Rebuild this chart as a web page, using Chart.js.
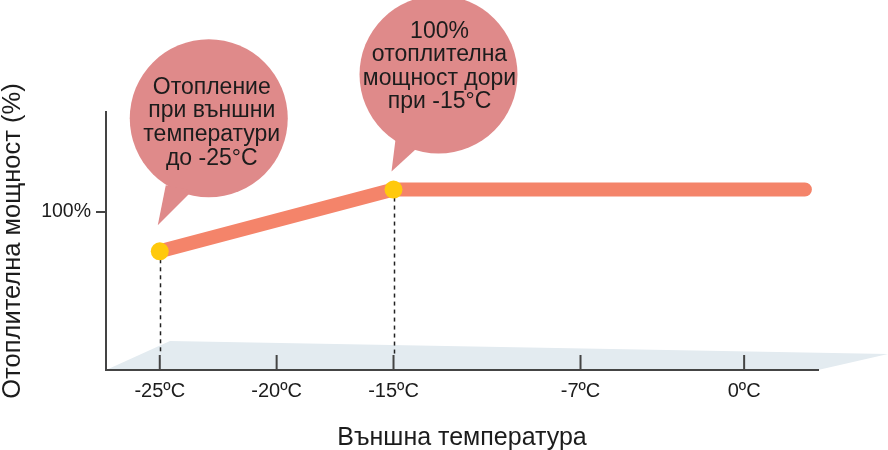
<!DOCTYPE html>
<html>
<head>
<meta charset="utf-8">
<script src="https://cdn.jsdelivr.net/npm/chart.js@4"></script>
<style>
  html, body { margin: 0; padding: 0; background: #fff; }
  #wrap { width: 888px; height: 450px; }
</style>
</head>
<body>
<div id="wrap"><canvas id="chart" width="888" height="450"></canvas></div>
<script>
// outdoor temperature (°C) -> heating capacity (%)
var temps = [-25, -15, 2.6];
var capacity = [75, 114, 114];
var markerTemps = [-25, -15];
var markerCapacity = [75, 114];
var tickTemps = [-25, -20, -15, -7, 0];
var yTicks = [100];

var bubbleTexts = [
  ["Отопление", "при външни", "температури", "до -25°C"],
  ["100%", "отоплителна", "мощност дори", "при -15°C"]
];

var FONT = "'Liberation Sans', Arial, sans-serif";
var colors = {
  line: "#f4846a",
  dot: "#ffc90c",
  bubble: "#df8a8a",
  floor: "#e3ebf0",
  axis: "#444",
  text: "#1c1c1c"
};

var linePoints = temps.map(function (t, i) { return { x: t, y: capacity[i] }; });
var markerPoints = markerTemps.map(function (t, i) { return { x: t, y: markerCapacity[i] }; });

var decor = {
  id: "decor",
  beforeDraw: function (chart) {
    var a = chart.chartArea, ctx = chart.ctx;
    ctx.save();
    ctx.fillStyle = colors.floor;
    ctx.beginPath();
    ctx.moveTo(a.left, a.bottom);
    ctx.lineTo(a.left + 64, a.bottom - 29);
    ctx.lineTo(888, a.bottom - 16);
    ctx.lineTo(a.right, a.bottom);
    ctx.closePath();
    ctx.fill();
    ctx.restore();
  },
  beforeDatasetsDraw: function (chart) {
    var ctx = chart.ctx, xs = chart.scales.x, ys = chart.scales.y, a = chart.chartArea;
    ctx.save();
    // inner tick marks
    ctx.strokeStyle = colors.axis;
    ctx.lineWidth = 2;
    tickTemps.forEach(function (t) {
      var px = xs.getPixelForValue(t);
      ctx.beginPath();
      ctx.moveTo(px, a.bottom);
      ctx.lineTo(px, a.bottom - 15);
      ctx.stroke();
    });
    // dashed drop lines
    ctx.strokeStyle = "#222";
    ctx.lineWidth = 1.5;
    ctx.setLineDash([4, 4]);
    markerPoints.forEach(function (p) {
      var px = Math.round(xs.getPixelForValue(p.x)) + 0.5;
      ctx.beginPath();
      ctx.moveTo(px, ys.getPixelForValue(p.y));
      ctx.lineTo(px, a.bottom - 16);
      ctx.stroke();
    });
    ctx.restore();
  },
  afterDatasetsDraw: function (chart) {
    var ctx = chart.ctx, xs = chart.scales.x, ys = chart.scales.y;
    var specs = [
      { dx: 49, dy: -133, r: 79, tail: [[6, -66], [33, -61]], tip: [-2, -26], tx: 3, ty: 4.5, lh: 23.7, size: 23 },
      { dx: 45, dy: -115, r: 79, tail: [[2, -50], [22, -40]], tip: [-2, -18], tx: 1, ty: -8, lh: 23.3, size: 23 }
    ];
    ctx.save();
    specs.forEach(function (s, i) {
      var px = xs.getPixelForValue(markerPoints[i].x);
      var py = ys.getPixelForValue(markerPoints[i].y);
      var cx = px + s.dx, cy = py + s.dy;
      ctx.fillStyle = colors.bubble;
      ctx.beginPath();
      ctx.arc(cx, cy, s.r, 0, Math.PI * 2);
      ctx.fill();
      ctx.beginPath();
      ctx.moveTo(px + s.tail[0][0], py + s.tail[0][1]);
      ctx.lineTo(px + s.tip[0], py + s.tip[1]);
      ctx.lineTo(px + s.tail[1][0], py + s.tail[1][1]);
      ctx.closePath();
      ctx.fill();
      ctx.fillStyle = colors.text;
      ctx.font = s.size + "px " + FONT;
      ctx.textAlign = "center";
      ctx.textBaseline = "middle";
      var lines = bubbleTexts[i];
      var y0 = cy + s.ty - (lines.length - 1) * s.lh / 2;
      lines.forEach(function (txt, k) {
        ctx.fillText(txt, cx + s.tx, y0 + k * s.lh);
      });
    });
    ctx.restore();
  }
};

new Chart(document.getElementById("chart"), {
  type: "line",
  data: {
    datasets: [
      {
        data: markerPoints,
        showLine: false,
        pointRadius: 9,
        pointBackgroundColor: colors.dot,
        pointBorderWidth: 0,
        order: 0
      },
      {
        data: linePoints,
        borderColor: colors.line,
        borderWidth: 14,
        borderCapStyle: "round",
        borderJoinStyle: "round",
        pointRadius: 0,
        tension: 0,
        clip: false,
        order: 1
      }
    ]
  },
  options: {
    responsive: false,
    animation: false,
    events: [],
    layout: { padding: { top: 112, right: 70, left: 0, bottom: 0 } },
    plugins: { legend: { display: false }, tooltip: { enabled: false } },
    scales: {
      x: {
        type: "linear",
        min: -27.3,
        max: 3.16,
        afterBuildTicks: function (s) { s.ticks = tickTemps.map(function (v) { return { value: v }; }); },
        afterFit: function (s) { s.height = 80; },
        grid: { display: false, drawTicks: false },
        border: { display: true, color: colors.axis, width: 2 },
        ticks: {
          padding: 9,
          color: colors.text,
          font: { family: FONT, size: 20 },
          callback: function (v) { return v + "ºC"; }
        },
        title: {
          display: true,
          text: "Външна температура",
          color: colors.text,
          font: { family: FONT, size: 25 },
          padding: { top: 0, bottom: -3 }
        }
      },
      y: {
        type: "linear",
        min: 0,
        max: 163,
        afterBuildTicks: function (s) { s.ticks = yTicks.map(function (v) { return { value: v }; }); },
        afterFit: function (s) { s.width = 106; },
        grid: { drawOnChartArea: false, drawTicks: true, tickLength: 10, color: colors.axis, lineWidth: 2 },
        border: { display: true, color: colors.axis, width: 2 },
        ticks: {
          padding: 5,
          color: colors.text,
          font: { family: FONT, size: 19.5 },
          callback: function (v) { return v + "%"; }
        },
        title: {
          display: true,
          text: "Отоплителна мощност (%)",
          color: colors.text,
          font: { family: FONT, size: 25.5 },
          padding: { top: -2, bottom: 4 }
        }
      }
    }
  },
  plugins: [decor]
});
</script>
</body>
</html>
